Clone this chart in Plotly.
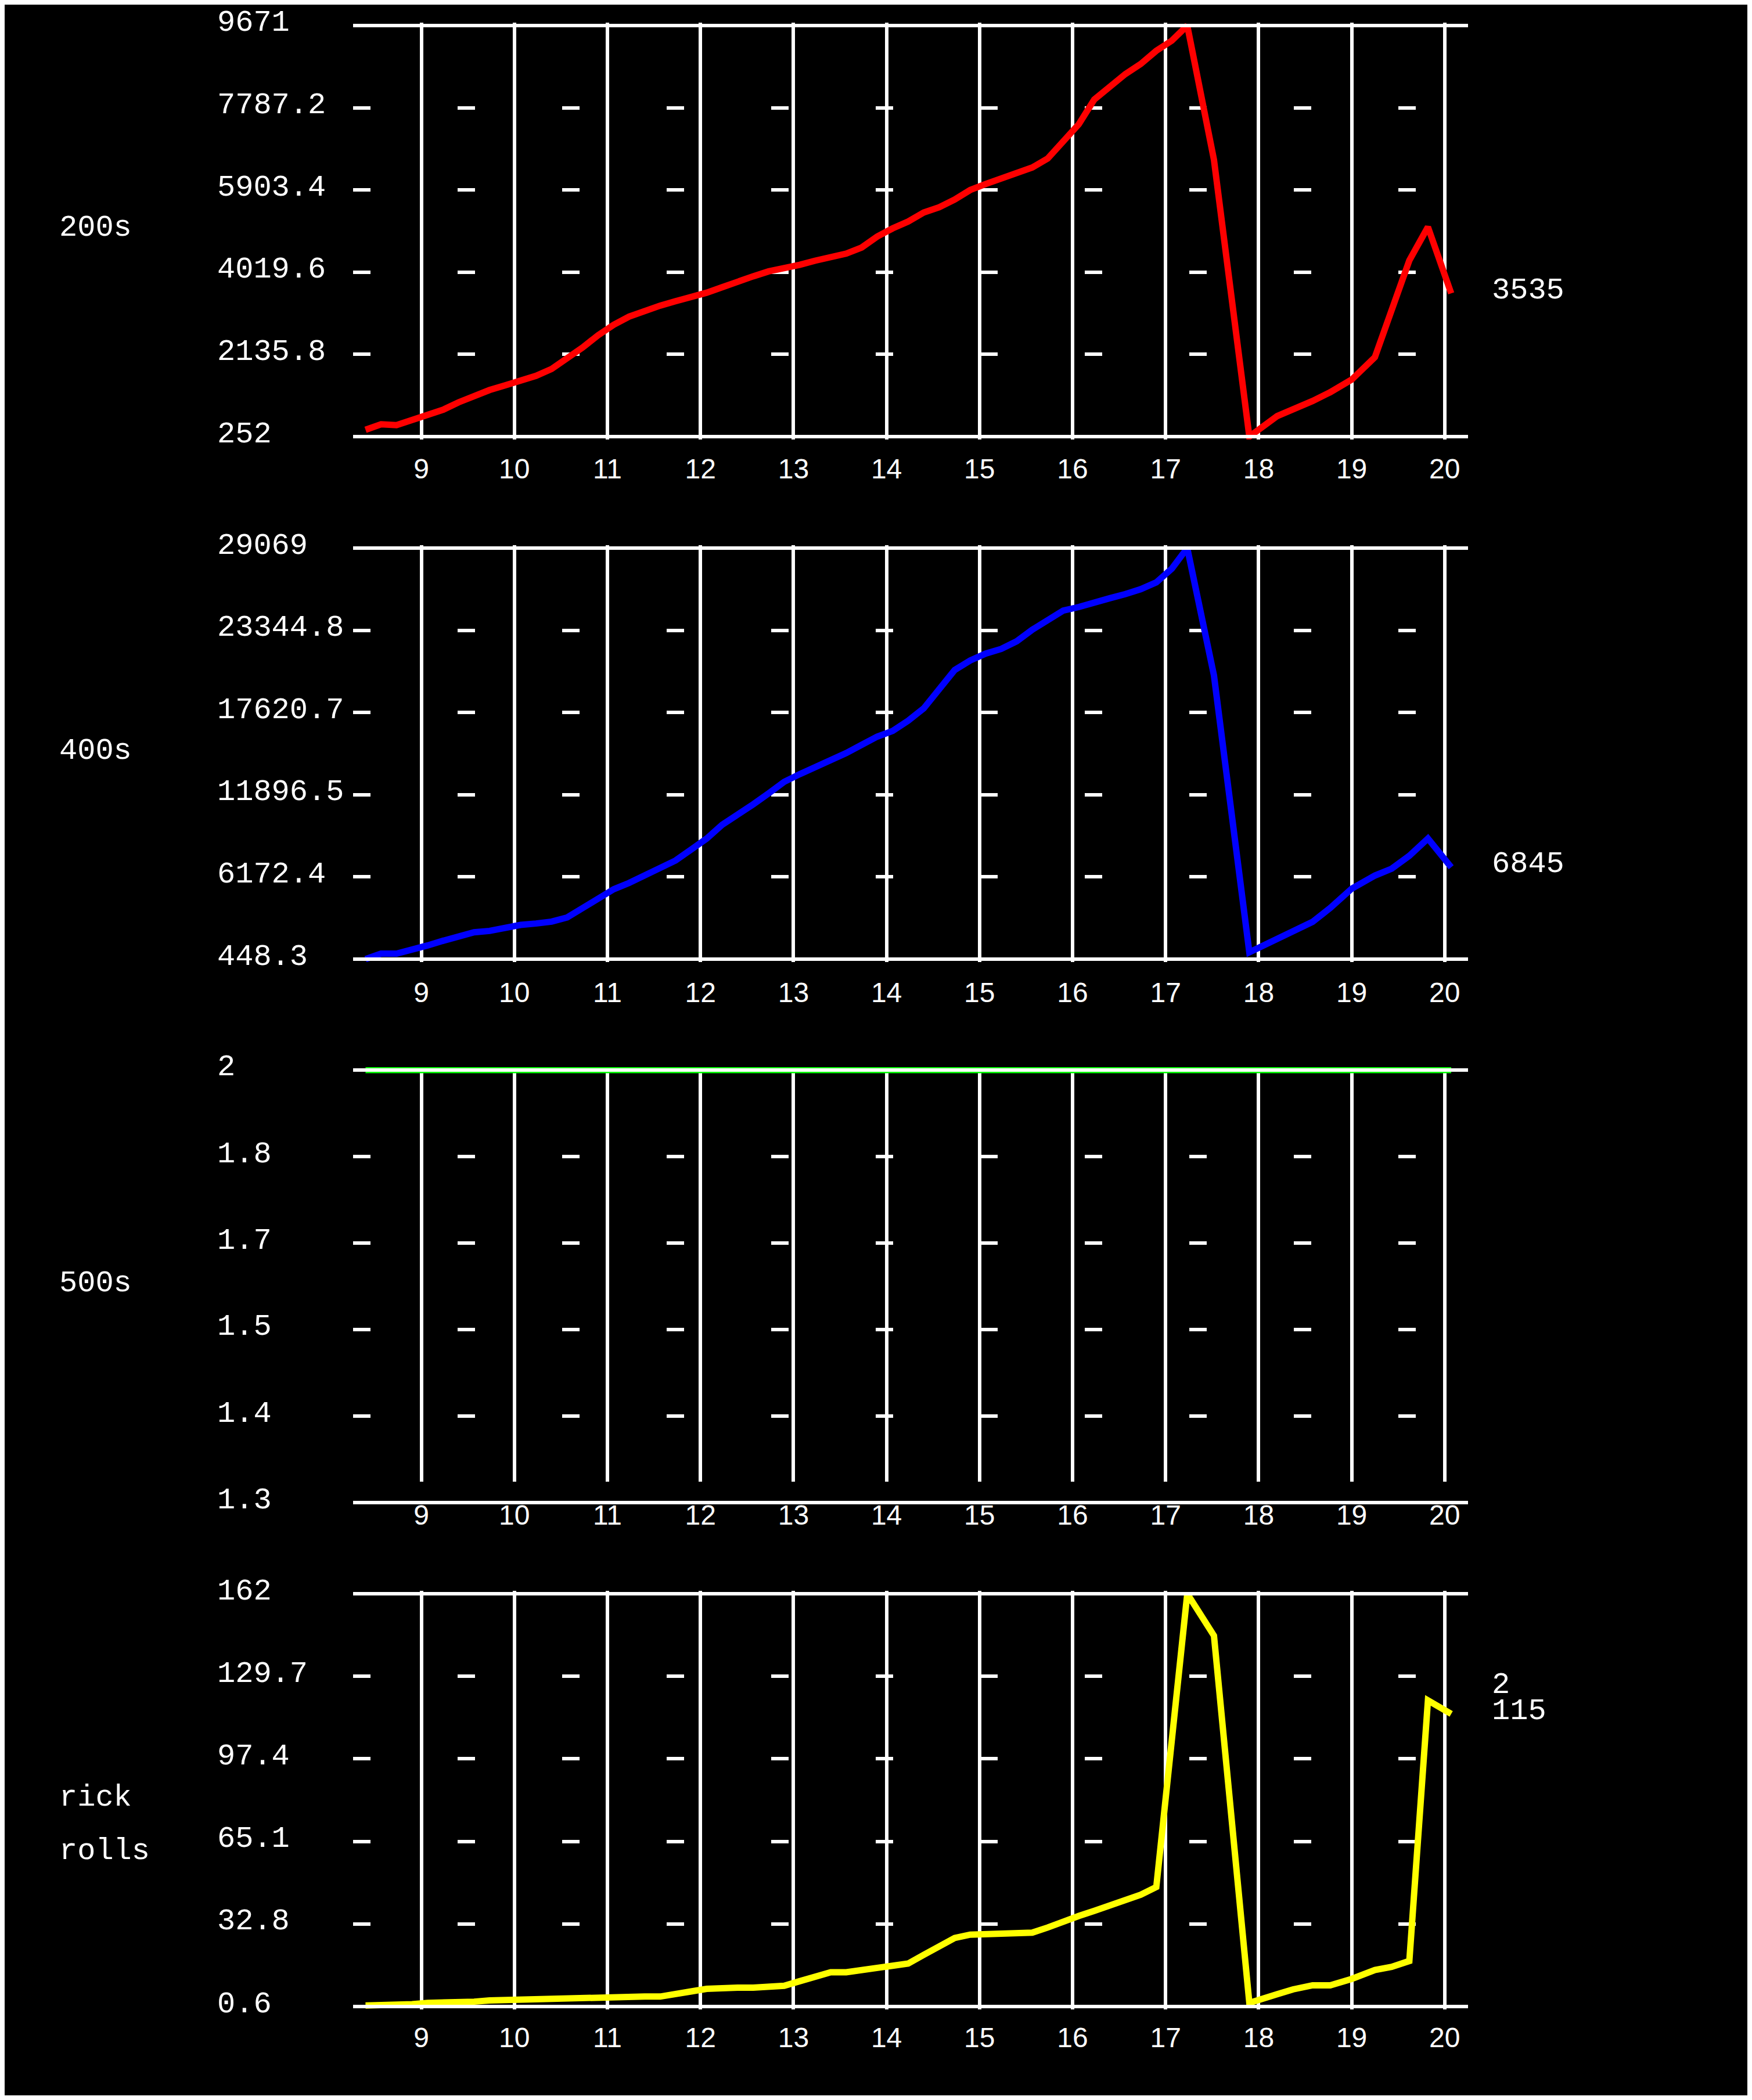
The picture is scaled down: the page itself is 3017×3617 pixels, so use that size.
import plotly.graph_objects as go

W, H = 3001, 3601

# ---------------- data ----------------
hours = [8.4, 8.567, 8.733, 8.9, 9.067, 9.233, 9.4, 9.567, 9.733, 9.9,
         10.067, 10.233, 10.4, 10.567, 10.733, 10.9, 11.067, 11.233, 11.4, 11.567,
         11.733, 11.9, 12.067, 12.233, 12.4, 12.567, 12.733, 12.9, 13.067, 13.233,
         13.4, 13.567, 13.733, 13.9, 14.067, 14.233, 14.4, 14.567, 14.733, 14.9,
         15.067, 15.233, 15.4, 15.567, 15.733, 15.9, 16.067, 16.233, 16.4, 16.567,
         16.733, 16.9, 17.067, 17.233, 17.52, 17.9, 18.2, 18.37, 18.58, 18.77,
         19.0, 19.25, 19.43, 19.62, 19.82, 20.07]

s200 = [409, 535, 516, 629, 742, 867, 1037, 1194, 1319, 1426,
        1527, 1646, 1803, 2042, 2293, 2575, 2814, 3002, 3140, 3253,
        3354, 3442, 3549, 3674, 3819, 3925, 4038, 4095, 4189, 4283,
        4365, 4446, 4585, 4836, 5024, 5181, 5388, 5508, 5683, 5903,
        6041, 6154, 6267, 6418, 6625, 7033, 7410, 7975, 8258, 8559,
        8791, 9093, 9325, 9671, 6594, 252, 723, 874, 1068, 1269,
        1558, 2073, 3140, 4289, 5055, 3535]

s400 = [448.3, 830, 830, 1078, 1402, 1727, 2070, 2318, 2414, 2643,
        2833, 2929, 3062, 3349, 3978, 4608, 5314, 5753, 6268, 6745,
        7317, 8080, 8844, 9797, 10465, 11228, 11991, 12793, 13327, 13804,
        14224, 14796, 15369, 15941, 16342, 17048, 17906, 19242, 20578, 21246,
        21725, 22047, 22581, 23382, 24107, 24718, 24966, 25214, 25577, 25863,
        26207, 26684, 27638, 29069, 20196, 925, 1822, 2356, 3043, 4016,
        5352, 6268, 6745, 7641, 8843, 6845]

s500 = [2, 2, 2, 2, 2, 2, 2, 2, 2, 2,
        2, 2, 2, 2, 2, 2, 2, 2, 2, 2,
        2, 2, 2, 2, 2, 2, 2, 2, 2, 2,
        2, 2, 2, 2, 2, 2, 2, 2, 2, 2,
        2, 2, 2, 2, 2, 2, 2, 2, 2, 2,
        2, 2, 2, 2, 2, 2, 2, 2, 2, 2,
        2, 2, 2, 2, 2, 2]

s_rick = [1, 1, 1.3, 1.5, 2, 2, 2, 2.5, 3, 3.2,
          3.5, 3.5, 3.5, 3.5, 3.7, 4, 4.3, 4.5, 4.5, 4.5,
          5.2, 6.5, 7.5, 8, 8, 8, 8.2, 8.7, 10.5, 12,
          14, 14, 15, 16, 16.5, 17.4, 20.8, 24.4, 27.4, 28.7,
          29, 29, 29, 29.5, 31.5, 34, 36, 38, 40, 42,
          44.3, 47.3, 104, 162, 145.6, 2, 5.4, 7.3, 8.9, 8.9,
          11.4, 14.9, 16.1, 18.4, 120.3, 115]

x_ticks = [9, 10, 11, 12, 13, 14, 15, 16, 17, 18, 19, 20]
x_tick_text = ["9", "10", "11", "12", "13", "14", "15", "16", "17", "18", "19", "20"]

names = ["200s", "400s", "500s", "rick rolls"]
colors = ["#FF0000", "#0000FF", "#00FF00", "#FFFF00"]
series = [s200, s400, s500, s_rick]

lab200 = ["252", "2135.8", "4019.6", "5903.4", "7787.2", "9671"]
lab400 = ["448.3", "6172.4", "11896.5", "17620.7", "23344.8", "29069"]
lab500 = ["1.3", "1.4", "1.5", "1.7", "1.8", "2"]
labrick = ["0.6", "32.8", "65.1", "97.4", "129.7", "162"]
ylabels = [lab200, lab400, lab500, labrick]
v_bot = [252, 448.3, 1.3, 0.6]
v_top = [9671, 29069, 2.0, 162]
last_labels = ["3535", "6845", None, "115"]

# ---------------- layout geometry (px) ----------------
p_top = [36, 936, 1835, 2737]      # pixel row of top value line
p_bot = [744, 1644, 2580, 3448]    # pixel row of bottom value line
dom_top = [31, 931, 1830, 2732]
dom_bot = [749, 1649, 2544, 3453]
x_left, x_right = 600, 2520
x_range = [8.266, 20.251]
standoffs = [18, 20, 25, 16]

MONO = "Liberation Mono"
SANS = "Liberation Sans"

fig = go.Figure()
shapes = []
annotations = []
layout = dict(
    width=W, height=H, autosize=False,
    paper_bgcolor="black", plot_bgcolor="black",
    margin=dict(l=0, r=0, t=0, b=0, pad=0),
    showlegend=False,
)

for i in range(4):
    n = "" if i == 0 else str(i + 1)
    xa, ya = "x" + n, "y" + n
    scale = (p_bot[i] - p_top[i]) / (v_top[i] - v_bot[i])
    r0 = v_bot[i] - (dom_bot[i] - p_bot[i]) / scale
    r1 = v_top[i] + (p_top[i] - dom_top[i]) / scale
    step = (v_top[i] - v_bot[i]) / 5
    tickpos = [v_bot[i] + k * step for k in range(6)]

    fig.add_trace(go.Scatter(
        x=hours, y=series[i], mode="lines", name=names[i],
        line=dict(color=colors[i], width=11),
        xaxis=xa, yaxis=ya, hoverinfo="skip",
    ))

    layout["xaxis" + n] = dict(
        domain=[x_left / W, x_right / W], range=x_range, anchor=ya,
        tickmode="array", tickvals=x_ticks, ticktext=x_tick_text,
        showgrid=True, gridcolor="white", gridwidth=6,
        zeroline=False, showline=False, ticks="",
        ticklabelstandoff=standoffs[i],
        tickfont=dict(family=SANS, size=48, color="white"),
    )
    layout["yaxis" + n] = dict(
        domain=[1 - dom_bot[i] / H, 1 - dom_top[i] / H], range=[r0, r1],
        anchor=xa, tickmode="array", tickvals=tickpos[1:5],
        showticklabels=False, ticks="",
        showgrid=True, gridcolor="white", gridwidth=5.5, griddash="30px,150px",
        zeroline=False, showline=False,
    )

    # solid lines at bottom and top values
    for v in (v_bot[i], v_top[i]):
        yd = (v - r0) / (r1 - r0)
        shapes.append(dict(
            type="line", xref=xa + " domain", yref=ya + " domain",
            x0=0, x1=1, y0=yd, y1=yd, layer="above",
            line=dict(color="white", width=6),
        ))

    # y tick labels
    for pos, txt in zip(tickpos, ylabels[i]):
        annotations.append(dict(
            xref="paper", yref=ya + " domain", x=364 / W,
            y=(pos - r0) / (r1 - r0), text=txt, showarrow=False,
            xanchor="left", yanchor="middle", yshift=4,
            font=dict(family=MONO, size=52, color="white"),
        ))

    # panel title
    mid = (v_top[i] + v_bot[i]) / 2
    midd = (mid - r0) / (r1 - r0)
    if names[i] == "rick rolls":
        for txt, ys in (("rick", 4), ("rolls", -88)):
            annotations.append(dict(
                xref="paper", yref=ya + " domain", x=92 / W, y=midd,
                text=txt, showarrow=False, xanchor="left", yanchor="middle",
                yshift=ys, font=dict(family=MONO, size=52, color="white"),
            ))
    else:
        annotations.append(dict(
            xref="paper", yref=ya + " domain", x=92 / W, y=midd,
            text=names[i], showarrow=False, xanchor="left", yanchor="middle",
            yshift=5, font=dict(family=MONO, size=52, color="white"),
        ))

    # last value label
    if last_labels[i] is not None:
        lv = series[i][-1]
        annotations.append(dict(
            xref="paper", yref=ya, x=2559 / W, y=lv, text=last_labels[i],
            showarrow=False, xanchor="left", yanchor="middle", yshift=5,
            font=dict(family=MONO, size=52, color="white"),
        ))

# the "2" shown just above the rick-rolls last value
annotations.append(dict(
    xref="paper", yref="y4", x=2559 / W, y=s_rick[-1], text=str(s500[-1]),
    showarrow=False, xanchor="left", yanchor="middle", yshift=50,
    font=dict(family=MONO, size=52, color="white"),
))

layout["shapes"] = shapes
layout["annotations"] = annotations
fig.update_layout(**layout)

fig.write_html("out.html", config={"displayModeBar": False})
